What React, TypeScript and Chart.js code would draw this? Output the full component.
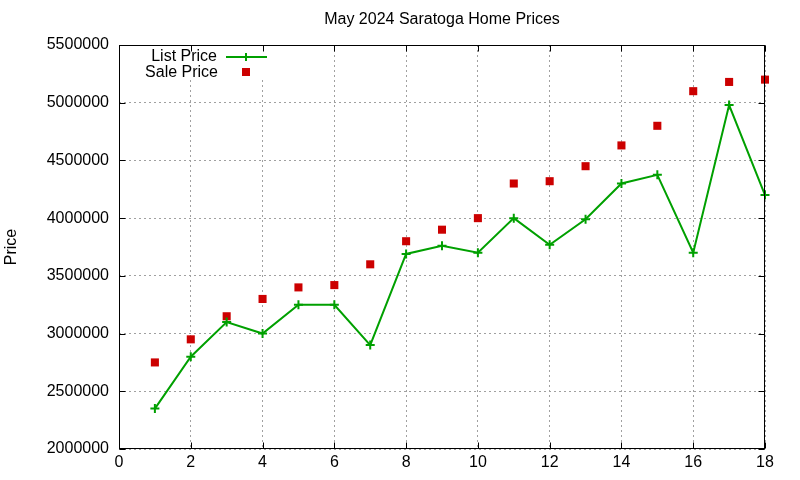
import React, { useEffect, useRef } from 'react';
import Chart from 'chart.js/auto';

// Listing index (x) and prices
const listingIndex = [1, 2, 3, 4, 5, 6, 7, 8, 9, 10, 11, 12, 13, 14, 15, 16, 17, 18];
const listPrices = [
    2350000, 2800000, 3100000, 3000000, 3250000, 3250000, 2900000, 3690000, 3760000,
    3700000, 4000000, 3770000, 3990000, 4300000, 4375000, 3700000, 4980000, 4200000,
];
const salePrices = [
    2750000, 2950000, 3150000, 3300000, 3400000, 3420000, 3600000, 3800000, 3900000,
    4000000, 4300000, 4320000, 4450000, 4630000, 4800000, 5100000, 5180000, 5200000,
];
const xRange = [0, 18];
const yRange = [2000000, 5500000];

const FONT = '"Liberation Sans", Arial, sans-serif';
const GREEN = '#00a000';
const RED = '#cc0000';

// gnuplot look: black frame with inward ticks on all sides, plus the key inside the plot
const gnuplotPlugin = {
    id: 'gnuplotFrame',
    beforeDatasetsDraw(chart: Chart) {
        const { ctx, chartArea } = chart;
        // the key box is opaque and hides the grid behind it
        ctx.save();
        ctx.fillStyle = '#ffffff';
        ctx.fillRect(chartArea.left + 22, chartArea.top + 1, 130, 34);
        ctx.restore();
    },
    afterDraw(chart: Chart) {
        const { ctx, chartArea } = chart;
        const { left, right, top, bottom } = chartArea;
        const x = chart.scales.x;
        const y = chart.scales.y;
        const L = Math.round(left) + 0.5;
        const R = Math.round(right) - 0.5;
        const T = Math.round(top) + 0.5;
        const B = Math.round(bottom) - 0.5;

        ctx.save();
        ctx.strokeStyle = '#000000';
        ctx.lineWidth = 1;
        ctx.setLineDash([]);
        ctx.strokeRect(L, T, R - L, B - T);

        ctx.beginPath();
        x.ticks.forEach((t) => {
            const px = Math.round(x.getPixelForValue(t.value)) + 0.5;
            ctx.moveTo(px, B);
            ctx.lineTo(px, B - 6);
            ctx.moveTo(px, T);
            ctx.lineTo(px, T + 6);
        });
        y.ticks.forEach((t) => {
            const py = Math.round(y.getPixelForValue(t.value)) + 0.5;
            ctx.moveTo(L, py);
            ctx.lineTo(L + 6, py);
            ctx.moveTo(R, py);
            ctx.lineTo(R - 6, py);
        });
        ctx.stroke();

        // key
        ctx.font = `16px ${FONT}`;
        ctx.fillStyle = '#000000';
        ctx.textAlign = 'right';
        ctx.textBaseline = 'middle';
        ctx.fillText('List Price', left + 98, top + 12);
        ctx.fillText('Sale Price', left + 99, top + 28);

        ctx.strokeStyle = GREEN;
        ctx.lineWidth = 2;
        ctx.beginPath();
        ctx.moveTo(left + 107, top + 12);
        ctx.lineTo(left + 148, top + 12);
        ctx.moveTo(left + 127, top + 8);
        ctx.lineTo(left + 127, top + 16);
        ctx.stroke();

        ctx.fillStyle = RED;
        ctx.fillRect(left + 123, top + 23, 8, 8);
        ctx.restore();
    },
};

export default function App() {
    const chartRef = useRef<HTMLCanvasElement>(null);
    const chartInstance = useRef<Chart | null>(null);

    useEffect(() => {
        const ctx = chartRef.current?.getContext('2d');
        if (!ctx) return;

        if (chartInstance.current) {
            chartInstance.current.destroy();
        }

        chartInstance.current = new Chart(ctx, {
            type: 'scatter',
            data: {
                datasets: [
                    {
                        label: 'List Price',
                        data: listingIndex.map((x, i) => ({ x, y: listPrices[i] })),
                        showLine: true,
                        borderColor: GREEN,
                        backgroundColor: GREEN,
                        borderWidth: 2,
                        pointStyle: 'cross',
                        pointRadius: 4.5,
                        pointBorderWidth: 2,
                        pointBorderColor: GREEN,
                        clip: false,
                    },
                    {
                        label: 'Sale Price',
                        data: listingIndex.map((x, i) => ({ x, y: salePrices[i] })),
                        showLine: false,
                        borderColor: RED,
                        backgroundColor: RED,
                        pointStyle: 'rect',
                        pointRadius: 5.7,
                        pointBorderWidth: 0,
                        clip: false,
                    },
                ],
            },
            options: {
                animation: false,
                responsive: true,
                maintainAspectRatio: false,
                layout: { padding: { left: 0, right: 35, top: 0, bottom: 0 } },
                plugins: {
                    legend: { display: false },
                    tooltip: { enabled: false },
                    title: {
                        display: true,
                        fullSize: false,
                        text: 'May 2024 Saratoga Home Prices',
                        color: '#000000',
                        font: { family: FONT, size: 16, weight: 'normal' },
                        padding: { top: 10.4, bottom: 15.4 },
                    },
                },
                scales: {
                    x: {
                        type: 'linear',
                        min: xRange[0],
                        max: xRange[1],
                        grid: { color: '#a0a0a0', lineWidth: 1, drawTicks: false },
                        border: { display: false, dash: [2, 3] },
                        ticks: {
                            stepSize: 2,
                            autoSkip: false,
                            maxRotation: 0,
                            padding: 4,
                            color: '#000000',
                            font: { family: FONT, size: 16 },
                        },
                        afterFit: (scale) => {
                            scale.height = 31;
                        },
                    },
                    y: {
                        type: 'linear',
                        min: yRange[0],
                        max: yRange[1],
                        grid: { color: '#a0a0a0', lineWidth: 1, drawTicks: false },
                        border: { display: false, dash: [2, 3] },
                        ticks: {
                            stepSize: 500000,
                            padding: 10,
                            color: '#000000',
                            font: { family: FONT, size: 16 },
                            callback: (value: string | number) => String(value),
                        },
                        title: {
                            display: true,
                            text: 'Price',
                            color: '#000000',
                            font: { family: FONT, size: 16 },
                            padding: { top: 2.4, bottom: 0 },
                        },
                        afterFit: (scale) => {
                            scale.width = 119;
                        },
                    },
                },
            },
            plugins: [gnuplotPlugin],
        });

        return () => {
            if (chartInstance.current) {
                chartInstance.current.destroy();
                chartInstance.current = null;
            }
        };
    }, []);

    return (
        <div style={{ position: 'fixed', left: 0, top: 0, width: 800, height: 480, background: '#ffffff' }}>
            <canvas ref={chartRef}></canvas>
        </div>
    );
}
